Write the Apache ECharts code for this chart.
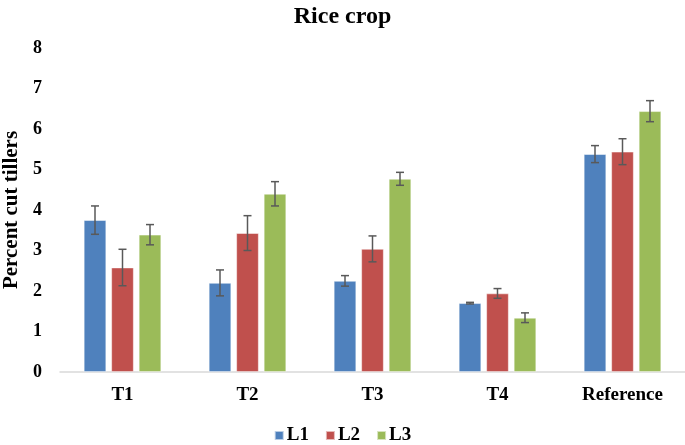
<!DOCTYPE html>
<html><head><meta charset="utf-8">
<script src="https://cdn.jsdelivr.net/npm/echarts@6/dist/echarts.min.js"></script>
<style>html,body{margin:0;padding:0;background:#fff}#c{width:685px;height:445px}</style>
</head><body><div id="c"></div>
<script>
const categories = ['T1', 'T2', 'T3', 'T4', 'Reference'];
const seriesNames = ['L1', 'L2', 'L3'];
const L1 = [3.75, 2.20, 2.25, 1.70, 5.38];
const L2 = [2.58, 3.43, 3.04, 1.94, 5.44];
const L3 = [3.39, 4.40, 4.77, 1.34, 6.44];
const E1 = [0.35, 0.32, 0.13, 0.02, 0.21];
const E2 = [0.45, 0.43, 0.32, 0.12, 0.32];
const E3 = [0.25, 0.30, 0.16, 0.12, 0.26];
const yTicks = [0, 1, 2, 3, 4, 5, 6, 7, 8];

const colors = ['#4F81BD', '#C0504D', '#9BBB59'];
const values = [L1, L2, L3];
const errs = [E1, E2, E3];
const BW = 22.5, GAP = 5;
const font = 'Liberation Serif';

const series = [];
values.forEach((v, i) => {
  series.push({
    name: seriesNames[i], type: 'bar', data: v, barWidth: BW, barGap: (GAP / BW * 100) + '%',
    itemStyle: { color: colors[i], borderColor: 'rgba(255,255,255,0.6)', borderWidth: 0.8 }
  });
});
values.forEach((v, i) => {
  series.push({
    type: 'custom', name: 'err' + i, z: 5,
    data: v.map((val, k) => [k, val - errs[i][k], val + errs[i][k]]),
    renderItem: function (params, api) {
      const k = api.value(0);
      const lo = api.coord([k, api.value(1)]);
      const hi = api.coord([k, api.value(2)]);
      const x = lo[0] + (i - 1) * (BW + GAP);
      const cap = 4;
      const st = { stroke: '#595959', lineWidth: 1.5 };
      return { type: 'group', children: [
        { type: 'line', shape: { x1: x, y1: lo[1], x2: x, y2: hi[1] }, style: st },
        { type: 'line', shape: { x1: x - cap, y1: lo[1], x2: x + cap, y2: lo[1] }, style: st },
        { type: 'line', shape: { x1: x - cap, y1: hi[1], x2: x + cap, y2: hi[1] }, style: st }
      ]};
    },
    encode: { x: 0, y: [1, 2] }
  });
});

const chart = echarts.init(document.getElementById('c'));
chart.setOption({
  animation: false,
  title: { text: 'Rice crop', left: 'center', top: 0,
    textStyle: { fontFamily: font, fontWeight: 'bold', fontSize: 24, color: '#000' } },
  legend: { data: seriesNames, top: 421, left: 'center', itemWidth: 9, itemHeight: 9, itemGap: 16,
    icon: 'rect', textStyle: { fontFamily: font, fontWeight: 'bold', fontSize: 19, color: '#000', padding: [0, 0, 0, -2] } },
  grid: { left: 60, right: 0, top: 48, bottom: 73, outerBoundsMode: 'none', containLabel: false },
  xAxis: { type: 'category', data: categories,
    axisLine: { lineStyle: { color: '#D9D9D9', width: 1.5 } }, axisTick: { show: false },
    axisLabel: { fontFamily: font, fontWeight: 'bold', fontSize: 19, color: '#000', margin: 14 } },
  yAxis: { type: 'value', min: yTicks[0], max: yTicks[yTicks.length - 1], interval: 1,
    name: 'Percent cut tillers', nameLocation: 'middle', nameGap: 36,
    nameTextStyle: { fontFamily: font, fontWeight: 'bold', fontSize: 21, color: '#000' },
    axisLine: { show: false }, axisTick: { show: false }, splitLine: { show: false },
    axisLabel: { fontFamily: font, fontWeight: 'bold', fontSize: 18, color: '#000', margin: 18 } },
  series: series
});
</script></body></html>
